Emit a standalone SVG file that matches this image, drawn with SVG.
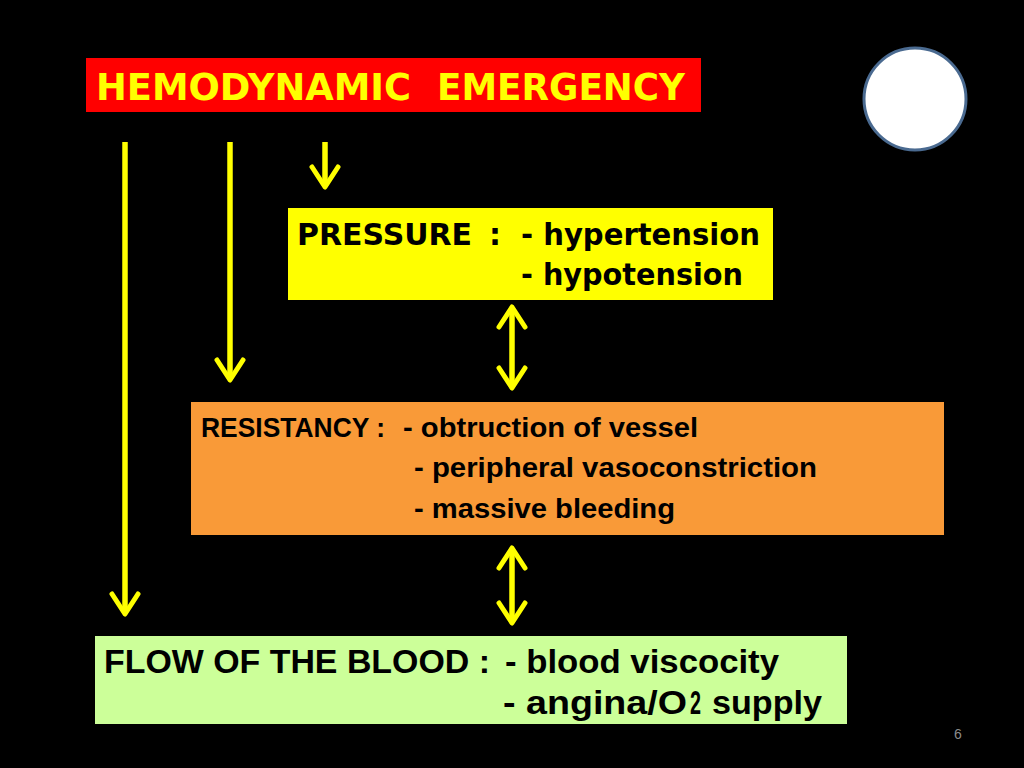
<svg xmlns="http://www.w3.org/2000/svg" width="1024" height="768" viewBox="0 0 1024 768">
<style>
.conn{stroke:#FFFF00;stroke-width:5.5;fill:none}
.t-title{font-family:"DejaVu Sans",Verdana,sans-serif;font-weight:bold;font-size:37px;fill:#FFFF00}
.t-press{font-family:"DejaVu Sans",sans-serif;font-weight:bold;font-size:30px;fill:#000}
.t-res{font-family:"Liberation Sans Narrow","Liberation Sans",Arial,sans-serif;font-weight:bold;font-size:28px;fill:#000}
.t-flow{font-family:"Liberation Sans Narrow","Liberation Sans",Arial,sans-serif;font-weight:bold;font-size:34px;fill:#000}
</style>
<defs>
<marker id="chev" viewBox="-24 -17 28 34" refX="0" refY="0" markerWidth="28" markerHeight="34" markerUnits="userSpaceOnUse" orient="auto-start-reverse">
<path d="M-20,-13 L0,0 L-20,13" fill="none" stroke="#FFFF00" stroke-width="5" stroke-linecap="round" stroke-linejoin="round"/>
</marker>
</defs>
<rect width="1024" height="768" fill="#000"/>
<g id="title">
<rect x="86" y="58" width="615" height="54" fill="#FF0000"/>
<text class="t-title" x="96" y="100" textLength="315" lengthAdjust="spacingAndGlyphs">HEMODYNAMIC</text>
<text class="t-title" x="437" y="100" textLength="248" lengthAdjust="spacingAndGlyphs">EMERGENCY</text>
</g>
<g id="circle">
<circle cx="915" cy="99" r="51" fill="#FFFFFF" stroke="#4A6A90" stroke-width="3"/>
</g>
<g id="pressure">
<rect x="288" y="208" width="485" height="92" fill="#FFFF00"/>
<text class="t-press" x="297" y="245" textLength="175" lengthAdjust="spacingAndGlyphs">PRESSURE</text>
<text class="t-press" x="489" y="245">:</text>
<text class="t-press" x="521" y="245" textLength="239" lengthAdjust="spacingAndGlyphs">- hypertension</text>
<text class="t-press" x="521" y="285" textLength="222" lengthAdjust="spacingAndGlyphs">- hypotension</text>
</g>
<g id="resistancy">
<rect x="191" y="402" width="753" height="133" fill="#F99A38"/>
<text class="t-res" x="201" y="437" textLength="184" lengthAdjust="spacingAndGlyphs">RESISTANCY :</text>
<text class="t-res" x="403" y="437" textLength="295" lengthAdjust="spacingAndGlyphs">- obtruction of vessel</text>
<text class="t-res" x="414" y="477" textLength="403" lengthAdjust="spacingAndGlyphs">- peripheral vasoconstriction</text>
<text class="t-res" x="414" y="518" textLength="261" lengthAdjust="spacingAndGlyphs">- massive bleeding</text>
</g>
<g id="flow">
<rect x="95" y="636" width="752" height="88" fill="#CCFF99"/>
<text class="t-flow" x="104" y="673" textLength="386" lengthAdjust="spacingAndGlyphs">FLOW OF THE BLOOD :</text>
<text class="t-flow" x="505" y="673" textLength="274" lengthAdjust="spacingAndGlyphs">- blood viscocity</text>
<text class="t-flow" x="503" y="714" textLength="184" lengthAdjust="spacingAndGlyphs">- angina/O</text>
<text class="t-flow" x="690" y="714" font-size="20" textLength="11" lengthAdjust="spacingAndGlyphs">2</text>
<text class="t-flow" x="712" y="714" textLength="110" lengthAdjust="spacingAndGlyphs">supply</text>
</g>
<g id="connectors">
<line class="conn" x1="125" y1="142" x2="125" y2="614" marker-end="url(#chev)"/>
<line class="conn" x1="230" y1="142" x2="230" y2="380" marker-end="url(#chev)"/>
<line class="conn" x1="325" y1="142" x2="325" y2="187" marker-end="url(#chev)"/>
<line class="conn" x1="512" y1="307" x2="512" y2="388" marker-start="url(#chev)" marker-end="url(#chev)"/>
<line class="conn" x1="512" y1="548" x2="512" y2="623" marker-start="url(#chev)" marker-end="url(#chev)"/>
</g>
<text x="958" y="739" text-anchor="middle" font-family="Liberation Sans,Arial,sans-serif" font-size="14" fill="#8C8C8C">6</text>
</svg>
